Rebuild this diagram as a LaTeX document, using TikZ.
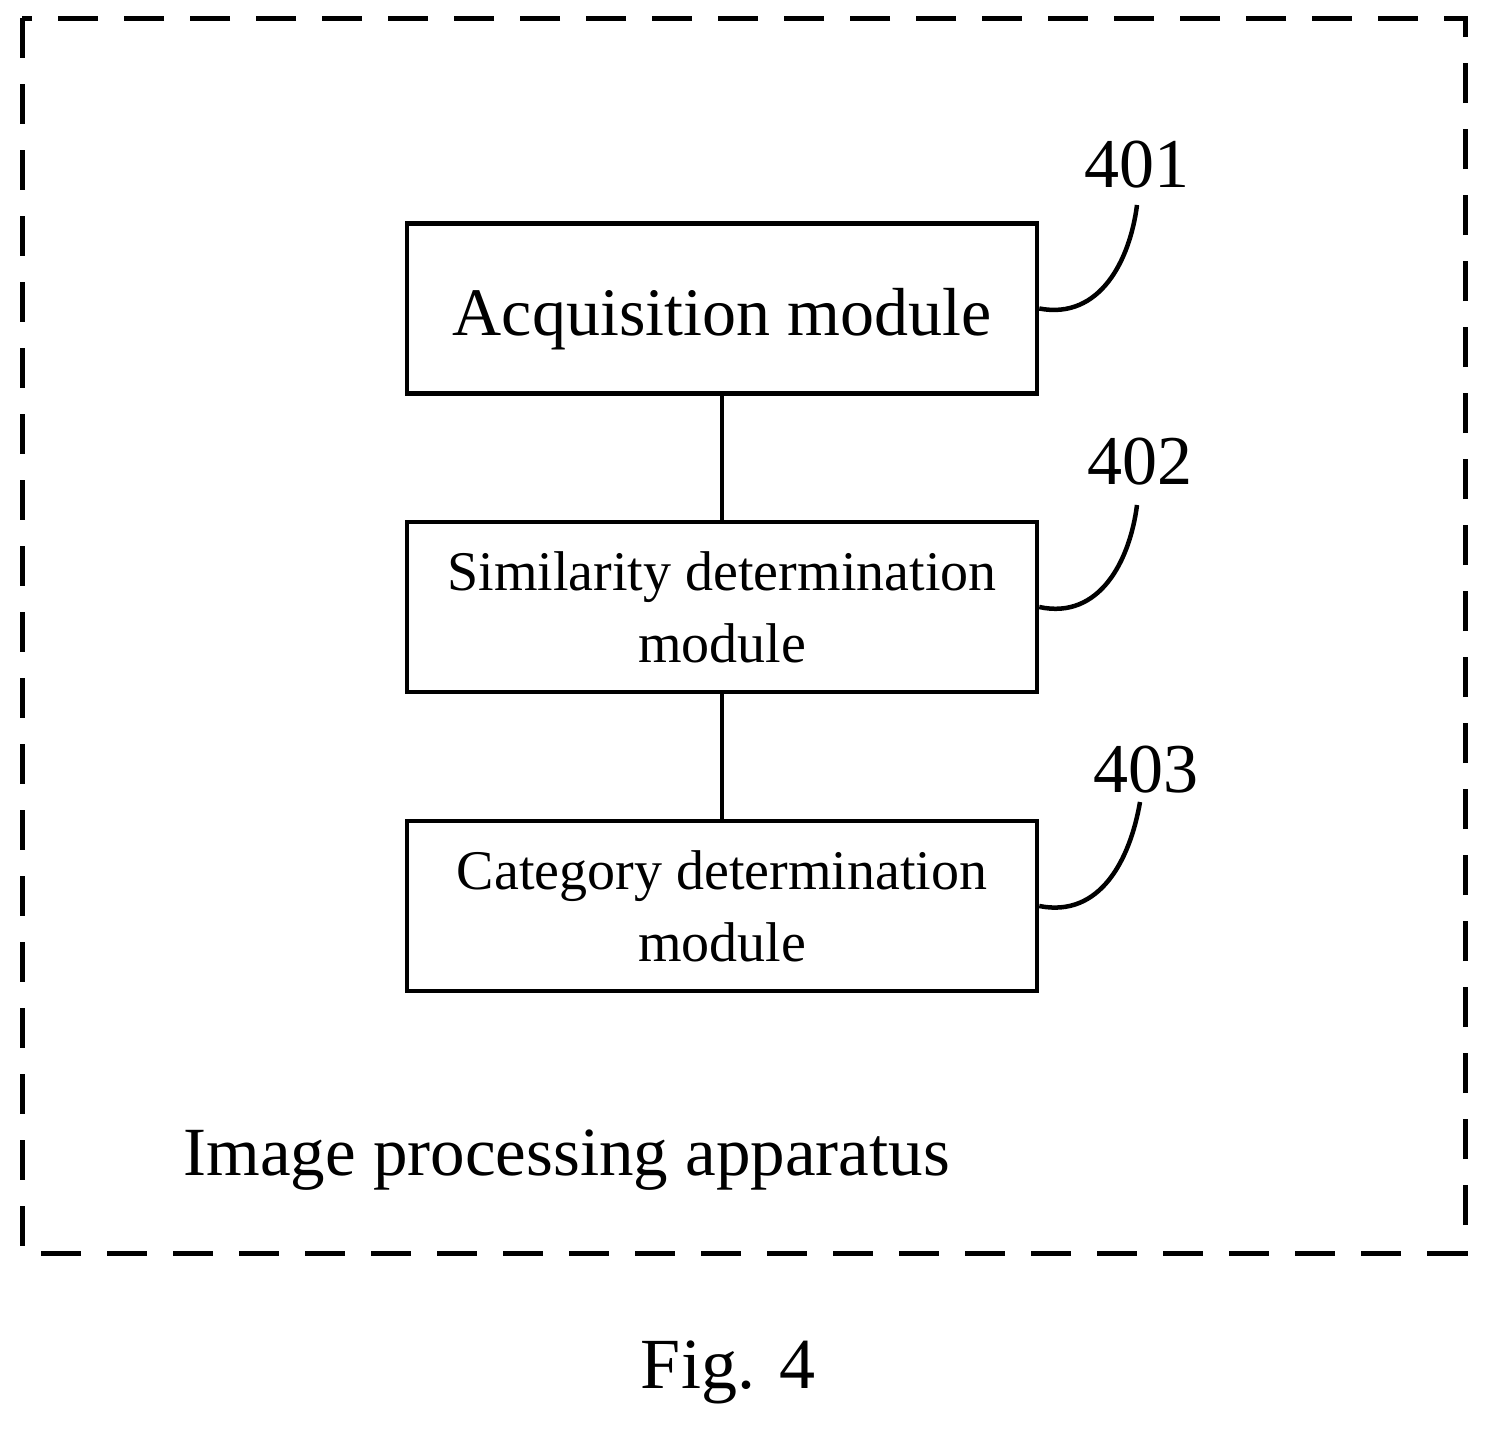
\documentclass[tikz,border=0pt]{standalone}
\usepackage{fontspec}
\setmainfont{Liberation Serif}
\usetikzlibrary{positioning}
\begin{document}
\begin{tikzpicture}[x=1pt,y=-1pt]
            \tikzstyle{module}=[draw=black,line width=4.5pt,minimum width=630pt,minimum height=170pt,inner sep=0pt,align=center]
            \tikzstyle{lead}=[line width=4.5pt]
            \useasboundingbox (0,0) rectangle (1487,1432);
            \draw [black,line width=5pt,dash pattern=on 40pt off 26pt] (22,18) rectangle (1465,1253);
            \node [module,font=\fontsize{68}{80}\selectfont] (acq) at (722,308.5) {\raisebox{-27pt}[0pt][0pt]{Acquisition module}};
            \node [module,font=\fontsize{56}{72}\selectfont] (sim) at (722,607) {Similarity determination\\module};
            \node [module,font=\fontsize{56}{72}\selectfont] (cat) at (722,906) {Category determination\\module};
            \draw [lead] (acq) -- (sim);
            \draw [lead] (sim) -- (cat);
            \node [font=\fontsize{70}{80}\selectfont] (n401) at (1137,165) {401};
            \node [font=\fontsize{70}{80}\selectfont] (n402) at (1140,462) {402};
            \node [font=\fontsize{70}{80}\selectfont] (n403) at (1146,770) {403};
            \draw [lead] (acq.east) .. controls (1100,320) and (1130,260) .. (1137,205);
            \draw [lead] (sim.east) .. controls (1100,620) and (1130,560) .. (1137,505);
            \draw [lead] (cat.east) .. controls (1100,918) and (1130,860) .. (1140,802);
            \node [anchor=west,font=\fontsize{69}{78}\selectfont] (app) at (180,1160) {Image processing apparatus};
            \node [font=\fontsize{72}{80}\selectfont] (fig) at (728,1372) {Fig. 4};
\end{tikzpicture}
\end{document}
